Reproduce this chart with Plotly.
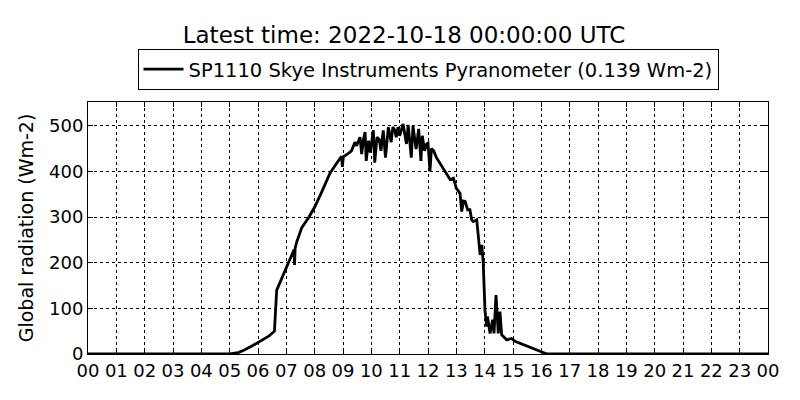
import plotly.graph_objects as go

# time of day in hours (UTC) and global radiation in Wm-2
hours = [0.0, 5.0, 5.3, 5.5, 5.8, 6.1, 6.35, 6.4, 6.53, 6.58, 6.66, 6.9, 7.1, 7.27, 7.29, 7.31,
         7.37, 7.54, 7.8, 8.01, 8.25, 8.54, 8.8, 8.95, 8.98, 9.01, 9.2, 9.3, 9.42, 9.48,
         9.6, 9.66, 9.72, 9.78, 9.82, 9.9, 9.96, 10.07, 10.12, 10.2, 10.28, 10.34, 10.42, 10.5,
         10.6, 10.7, 10.76, 10.83, 10.88, 10.94, 11.0, 11.12, 11.24, 11.3, 11.41, 11.47, 11.58,
         11.67, 11.75, 11.8, 11.88, 11.95, 12.0, 12.07, 12.12, 12.2, 12.3, 12.42, 12.55, 12.66,
         12.78, 12.9, 13.0, 13.13, 13.19, 13.25, 13.31, 13.4, 13.48, 13.54, 13.6, 13.72, 13.84,
         13.9, 13.95, 14.01, 14.07, 14.1, 14.19, 14.28, 14.33, 14.4, 14.48, 14.54, 14.6, 14.78,
         14.95, 15.07, 15.5, 15.9, 16.07, 16.2, 24.0]
radiation = [0, 0, 3, 8, 18, 28, 38, 40, 46, 50, 140, 175, 205, 228, 195, 232,
             246, 276, 300, 323, 355, 396, 420, 433, 410, 432, 440, 445, 464, 456,
             475, 438, 470, 486, 423, 467, 441, 490, 419, 475, 470, 445, 490, 430,
             497, 464, 497, 490, 475, 497, 478, 504, 460, 502, 430, 500, 449,
             493, 423, 478, 445, 460, 462, 400, 450, 445, 430, 418, 405, 396,
             382, 385, 363, 352, 312, 335, 334, 316, 316, 294, 290, 294, 217,
             239, 199, 96, 60, 82, 45, 75, 45, 129, 45, 93, 42, 31,
             34, 28, 17, 6, 2, 0, 0]

tick_hours = list(range(25))
tick_labels = ["%02d" % (h % 24) for h in tick_hours]
y_ticks = [0, 100, 200, 300, 400, 500]

series_name = "SP1110 Skye Instruments Pyranometer (0.139 Wm-2)"
title_text = "Latest time: 2022-10-18 00:00:00 UTC"

# the page body adds an 8px offset; compensate so the figure lands where the reference is
W, H = 792, 392

fig = go.Figure()
fig.add_trace(go.Scatter(x=hours, y=radiation, mode="lines", name=series_name,
                         line=dict(color="black", width=2.8), showlegend=True))

axis_common = dict(showline=True, linecolor="black", linewidth=1, mirror="ticks",
                   ticks="inside", ticklen=5, tickcolor="black", automargin=False,
                   showgrid=True, gridcolor="black", gridwidth=0.6, griddash="dot",
                   zeroline=False, tickfont=dict(size=18, color="black"))

fig.update_layout(
    width=W, height=H,
    margin=dict(l=80, r=32, t=94, b=46, autoexpand=False),
    paper_bgcolor="white", plot_bgcolor="white",
    font=dict(family="DejaVu Sans", color="black"),
    title=dict(text=title_text, x=0.5, xanchor="center", y=1 - 27 / H, yanchor="middle",
               yref="container", font=dict(size=23)),
    showlegend=True,
    legend=dict(x=0.5, xanchor="center", xref="paper", y=1 - 82 / H, yanchor="bottom",
                yref="container",
                bordercolor="black", borderwidth=1, bgcolor="white",
                font=dict(size=19.5), itemwidth=40),
    xaxis=dict(range=[0, 24], tickvals=tick_hours, ticktext=tick_labels, **axis_common),
    yaxis=dict(range=[0, 552], tickvals=y_ticks,
               title=dict(text="Global radiation (Wm-2)", font=dict(size=19), standoff=10),
               **axis_common),
)

fig.write_html("out.html")
